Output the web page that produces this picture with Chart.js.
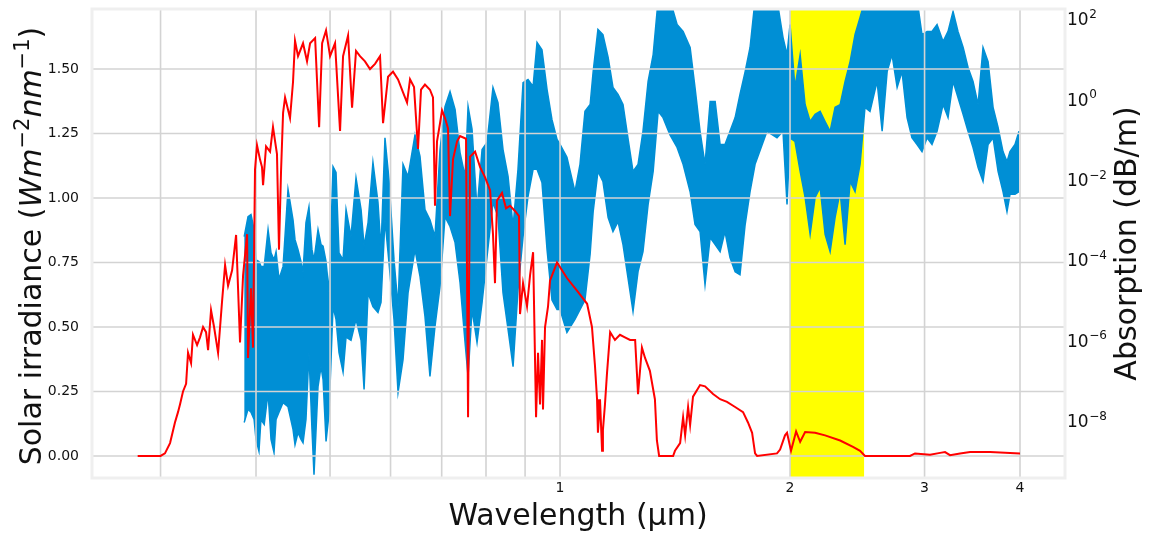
<!DOCTYPE html>
<html>
<head>
<meta charset="utf-8">
<script src="https://cdn.jsdelivr.net/npm/chart.js@4.4.1/dist/chart.umd.min.js"></script>
<style>
  html, body { margin: 0; padding: 0; background: #fff; }
  canvas { display: block; }
</style>
</head>
<body>
<canvas id="spectrumChart" width="1152" height="533"></canvas>
<script>
// solar irradiance (left axis, W m^-2 nm^-1)
var redWl = [
  0.28,0.30,0.304,0.3087,0.3133,0.3162,0.3181,0.321,0.324,0.3259,
  0.3289,0.3308,0.3349,0.3379,0.341,0.3441,0.3462,0.3493,0.3525,0.3568,
  0.3611,0.3644,0.3677,0.3722,0.3767,0.3812,0.3847,0.3894,0.3905,0.394,
  0.3964,0.3988,0.4012,0.4048,0.4073,0.4086,0.4123,0.4173,0.421,0.4261,
  0.4287,0.4313,0.434,0.4366,0.4432,0.4472,0.4499,0.454,0.4609,0.4665,
  0.4708,0.478,0.4838,0.4882,0.494,0.5,0.5076,0.5153,0.52,0.5279,
  0.5343,0.5407,0.5472,0.5555,0.564,0.5726,0.5813,0.5866,0.5955,0.6045,
  0.6137,0.623,0.6306,0.6363,0.644,0.6518,0.6577,0.6656,0.6757,0.6819,
  0.686,0.6902,0.6965,0.7007,0.707,0.7135,0.7178,0.7243,0.7332,0.7398,
  0.7533,0.7579,0.7625,0.7741,0.7859,0.7978,0.8099,0.817,0.822,0.8269,
  0.8395,0.8498,0.8602,0.8731,0.8837,0.8864,0.8945,0.9053,0.9136,0.922,
  0.9303,0.9358,0.9415,0.9472,0.95,0.9558,0.9645,0.9703,0.985,0.991,
  1.021,1.053,1.085,1.101,1.111,1.118,1.121,1.128,1.135,1.138,
  1.145,1.152,1.163,1.18,1.198,1.216,1.235,1.254,1.265,1.28,
  1.292,1.311,1.331,1.339,1.348,1.406,1.414,1.436,1.449,1.458,
  1.471,1.48,1.493,1.525,1.548,1.586,1.62,1.654,1.695,1.736,
  1.762,1.784,1.8,1.811,1.923,1.941,1.97,1.982,2.006,2.037,
  2.062,2.093,2.157,2.223,2.326,2.418,2.47,2.507,2.871,2.915,
  3.05,3.144,3.191,3.239,3.339,3.441,3.655,4.0
];
var irradiance = [
  0,0,0.01,0.05,0.13,0.17,0.2,0.25,0.28,0.4,
  0.36,0.47,0.43,0.46,0.5,0.48,0.41,0.565,0.5,0.4,
  0.6,0.74,0.66,0.72,0.857,0.44,0.7,0.86,0.38,0.65,
  0.42,1.11,1.205,1.15,1.12,1.05,1.2,1.18,1.275,1.17,
  0.8,1.1,1.33,1.39,1.31,1.45,1.61,1.55,1.6,1.53,
  1.6,1.62,1.275,1.6,1.65,1.55,1.6,1.26,1.55,1.63,
  1.35,1.57,1.55,1.53,1.5,1.52,1.55,1.29,1.47,1.49,
  1.46,1.41,1.37,1.46,1.43,1.19,1.42,1.44,1.42,1.39,
  0.97,1.22,1.29,1.34,1.31,1.27,0.93,1.15,1.22,1.24,
  1.23,0.15,1.16,1.18,1.12,1.08,1.03,0.86,0.67,0.99,
  1.02,0.96,0.97,0.95,0.93,0.55,0.67,0.58,0.7,0.79,
  0.15,0.4,0.2,0.45,0.18,0.5,0.58,0.68,0.73,0.75,
  0.69,0.64,0.59,0.5,0.35,0.22,0.09,0.22,0.02,0.1,
  0.2,0.32,0.48,0.45,0.47,0.46,0.45,0.45,0.24,0.42,
  0.38,0.33,0.22,0.06,0,0,0.02,0.05,0.15,0.08,
  0.19,0.12,0.23,0.275,0.27,0.24,0.22,0.21,0.19,0.17,
  0.13,0.09,0.01,0,0.01,0.025,0.08,0.09,0.02,0.095,
  0.055,0.093,0.09,0.08,0.06,0.035,0.02,0,0,0.01,
  0.005,0.012,0.015,0.003,0.01,0.015,0.015,0.01
];

// water absorption (right axis, dB/m): upper and lower edge of the dense band
var absWl = [
  0.386,0.3905,0.394,0.3977,0.400,0.4036,0.406,0.410,0.4148,0.4185,
  0.4223,0.4249,0.4287,0.434,0.4405,0.4472,0.4499,0.454,0.4581,0.4609,
  0.465,0.4692,0.4735,0.4764,0.4822,0.4866,0.4896,0.494,0.4985,0.5045,
  0.5091,0.5137,0.520,0.5247,0.5326,0.5407,0.549,0.554,0.5607,0.569,
  0.5777,0.583,0.590,0.5972,0.6063,0.6137,0.623,0.6325,0.6459,0.6557,
  0.6656,0.6757,0.686,0.6965,0.707,0.7178,0.7288,0.7398,0.7511,0.7579,
  0.767,0.7787,0.7906,0.8025,0.817,0.8294,0.8421,0.855,0.868,0.881,
  0.8945,0.908,0.922,0.933,0.947,0.9616,0.976,0.991,1.0,1.021,
  1.046,1.062,1.078,1.095,1.105,1.121,1.138,1.156,1.173,1.191,
  1.209,1.227,1.246,1.265,1.284,1.304,1.324,1.344,1.364,1.393,
  1.423,1.449,1.48,1.502,1.525,1.548,1.572,1.596,1.62,1.644,
  1.669,1.695,1.72,1.747,1.773,1.8,1.866,1.923,1.958,1.982,
  2.0,2.03,2.062,2.093,2.125,2.157,2.19,2.223,2.257,2.291,
  2.326,2.361,2.397,2.433,2.47,2.507,2.545,2.6,2.64,2.68,
  2.72,2.762,2.803,2.846,2.888,2.933,2.977,3.023,3.068,3.115,
  3.172,3.22,3.269,3.318,3.37,3.42,3.472,3.525,3.578,3.633,
  3.688,3.744,3.8,3.846,3.881,3.94,3.988
];
var absHigh = [
  3.8e-4,1.2e-3,1.35e-3,5.7e-4,1.0e-4,9.1e-5,6.9e-5,6.9e-5,5.7e-4,1.5e-4,
  1.0e-4,1.6e-4,3.3e-5,6.9e-5,5.7e-3,1.0e-3,3.2e-4,1.8e-4,9.1e-5,4.9e-5,
  8.5e-4,2.1e-3,1.8e-4,1.0e-4,5.7e-4,2.4e-4,2.2e-4,9.1e-5,1.5e-5,2.1e-2,
  1.5e-2,1.5e-4,1.0e-4,1.8e-3,3.8e-4,1.1e-2,1.8e-3,2.2e-4,8.5e-4,2.7e-2,
  2.7e-3,1.8e-4,0.11,1.0e-2,1.0e-4,6.9e-6,2.4e-2,1.2e-2,0.13,3.8e-2,
  1.8e-3,1.0e-3,3.8e-4,5.6e-2,0.66,1.56,0.56,4.7e-2,1.2e-2,0.66,
  0.18,1.8e-3,5.6e-2,8.4e-2,1.97,0.83,5.6e-2,1.2e-2,6.8e-4,1.8e-2,
  2.6,3.1,2.1,26,17,1.75,0.31,0.1,7.5e-2,3.6e-2,
  5.0e-3,2.4e-2,0.5,0.74,4.9,55,41,11,1.97,1.32,
  0.74,0.11,1.6e-2,2.4e-2,0.16,2.8,13,300,300,300,
  73,49,19.5,1.97,0.16,2.4e-2,0.88,0.88,7.5e-2,7.5e-2,
  0.16,0.35,1.32,4.9,19.5,300,300,300,35,13,
  73,1.97,13,0.74,0.28,0.42,0.5,0.28,0.16,0.63,
  0.74,2.8,8.7,41,109,300,300,300,300,300,
  300,300,300,300,300,300,41,49,49,73,
  27.5,49,154,49,19.5,6.2,2.8,0.74,19.5,8.7,
  0.63,0.2,5.0e-2,2.8e-2,5.0e-2,7.5e-2,0.16
];
var absLow = [
  8.9e-9,1.9e-8,1.6e-8,1.06e-8,3.4e-9,1.7e-9,1.06e-8,8.0e-9,5.0e-8,3.4e-9,
  1.6e-9,1.06e-8,1.6e-8,2.8e-8,2.2e-8,6.0e-9,2.5e-9,5.0e-9,3.4e-9,2.8e-9,
  1.06e-8,4.9e-7,6.0e-9,4.5e-10,7.0e-8,2.2e-7,1.05e-7,3.0e-9,1.5e-8,6.9e-6,
  3.3e-6,4.9e-7,1.6e-7,1.2e-6,1.0e-6,3.3e-6,1.0e-6,5.9e-8,1.5e-5,6.9e-6,
  4.9e-6,8.7e-6,1.0e-3,8.6e-5,3.3e-6,5.0e-8,3.3e-7,1.5e-5,1.8e-4,3.9e-5,
  3.9e-6,1.25e-7,2.2e-6,2.2e-5,1.2e-3,6.8e-4,2.7e-4,2.7e-5,8.8e-7,1.25e-7,
  5.8e-6,8.8e-7,8.7e-6,1.2e-4,2.7e-3,1.2e-3,1.5e-5,1.85e-6,2.2e-7,1.8e-5,
  3.8e-4,3.8e-3,1.8e-2,1.8e-2,8.5e-3,1.8e-4,1.0e-5,5.8e-6,5.8e-6,1.56e-6,
  3.3e-6,5.8e-6,1.0e-5,1.4e-4,1.6e-3,1.6e-2,9.0e-3,1.14e-3,5.1e-4,9.0e-4,
  2.4e-4,3.65e-5,5.2e-6,5.1e-5,1.6e-4,2.4e-3,1.6e-2,0.5,0.35,0.13,
  6.3e-2,2.4e-2,5.0e-3,7.6e-4,5.1e-4,2.4e-5,3.6e-4,2.4e-4,1.6e-4,5.1e-4,
  1.15e-4,5.1e-5,4.3e-5,7.6e-4,5.0e-3,2.4e-2,0.16,0.11,0.16,2.4e-3,
  0.11,8.9e-2,1.6e-2,3.6e-3,4.3e-4,3.6e-3,6.4e-3,4.3e-4,1.6e-4,1.14e-3,
  5.0e-3,2.4e-4,9.0e-3,5.0e-3,2.4e-2,0.63,0.5,2.8,0.16,4.9,
  13,1.97,4.9,0.35,0.11,7.5e-2,5.0e-2,0.11,7.5e-2,0.16,
  0.74,0.35,2.8,1.11,0.42,0.16,6.3e-2,2.0e-2,9.0e-3,7.5e-2,
  0.11,1.6e-2,5.0e-3,1.6e-3,4.3e-3,4.3e-3,5.0e-3
];

var wlTicks = [0.3, 0.4, 0.5, 0.6, 0.7, 0.8, 0.9, 1, 2, 3, 4];
var wlTickLabels = ['', '', '', '', '', '', '', '1', '2', '3', '4'];
var irrTicks = [0, 0.25, 0.5, 0.75, 1.0, 1.25, 1.5];
var absTickExp = [-8, -6, -4, -2, 0, 2];
var bandStart = 2.0, bandEnd = 2.5;

var FONT = '"DejaVu Sans", sans-serif';
var BLUE = '#008fd5';
var INK = '#111';

var redPts = redWl.map(function (w, i) { return { x: w, y: irradiance[i] }; });
var highPts = absWl.map(function (w, i) { return { x: w, y: absHigh[i] }; });
var lowPts = absWl.map(function (w, i) { return { x: w, y: absLow[i] }; });

function noEdgePadding(s) {
    s.paddingTop = 0; s.paddingBottom = 0;
    s.paddingLeft = 0; s.paddingRight = 0;
}

var decor = {
    id: 'decor',
    beforeDatasetsDraw: function (chart) {
        var ctx = chart.ctx, a = chart.chartArea, x = chart.scales.x;
        var x0 = x.getPixelForValue(bandStart), x1 = x.getPixelForValue(bandEnd);
        ctx.save();
        ctx.fillStyle = '#ffff00';
        ctx.fillRect(x0, a.top, x1 - x0, a.bottom - a.top);
        ctx.restore();
    },
    beforeDatasetDraw: function (chart, args) {
        // grid sits above the blue band but under the red curve
        if (args.index !== 0) return;
        var ctx = chart.ctx, a = chart.chartArea;
        var x = chart.scales.x, y = chart.scales.y;
        ctx.save();
        ctx.strokeStyle = '#d3d3d3';
        ctx.lineWidth = 1.6;
        ctx.beginPath();
        wlTicks.forEach(function (v) {
            var px = x.getPixelForValue(v);
            ctx.moveTo(px, a.top); ctx.lineTo(px, a.bottom);
        });
        irrTicks.forEach(function (v) {
            var py = y.getPixelForValue(v);
            ctx.moveTo(a.left, py); ctx.lineTo(a.right, py);
        });
        ctx.stroke();
        ctx.restore();
    },
    afterDraw: function (chart) {
        var ctx = chart.ctx, a = chart.chartArea;
        var x = chart.scales.x, y = chart.scales.y, y2 = chart.scales.y2;
        ctx.save();
        // frame
        ctx.strokeStyle = '#efefef';
        ctx.lineWidth = 3;
        ctx.strokeRect(a.left, a.top - 1, a.right - a.left + 1, a.bottom - a.top + 2);

        ctx.fillStyle = INK;
        ctx.font = '14px ' + FONT;

        // left tick labels
        ctx.textAlign = 'right';
        ctx.textBaseline = 'middle';
        irrTicks.forEach(function (v) {
            ctx.fillText(v.toFixed(2), a.left - 13, y.getPixelForValue(v));
        });

        // bottom tick labels
        ctx.textAlign = 'center';
        wlTicks.forEach(function (v, i) {
            if (wlTickLabels[i]) ctx.fillText(wlTickLabels[i], x.getPixelForValue(v), a.bottom + 11);
        });

        // right tick labels 10^n
        ctx.textAlign = 'left';
        ctx.textBaseline = 'alphabetic';
        absTickExp.forEach(function (e) {
            var py = y2.getPixelForValue(Math.pow(10, e));
            ctx.font = '17px ' + FONT;
            ctx.fillText('10', a.right + 3, py + 6.5);
            var w = ctx.measureText('10').width;
            ctx.font = '12px ' + FONT;
            ctx.fillText(e < 0 ? '\u2212' + (-e) : String(e), a.right + 3 + w + 0.5, py - 1);
        });

        // x title
        ctx.font = '30px ' + FONT;
        ctx.textAlign = 'center';
        ctx.fillText('Wavelength (\u00b5m)', (a.left + a.right) / 2, 525);

        // right title
        ctx.save();
        ctx.translate(1136, (a.top + a.bottom) / 2);
        ctx.rotate(-Math.PI / 2);
        ctx.fillText('Absorption (dB/m)', 0, 0);
        ctx.restore();

        // left title with italic units and superscripts
        var parts = [
            ['Solar irradiance (', '30px ' + FONT, 0],
            ['Wm', 'italic 30px ' + FONT, 0],
            ['\u22122', '21px ' + FONT, 12],
            ['nm', 'italic 30px ' + FONT, 0],
            ['\u22121', '21px ' + FONT, 12],
            [')', '30px ' + FONT, 0]
        ];
        var total = 0;
        parts.forEach(function (p) { ctx.font = p[1]; p.push(ctx.measureText(p[0]).width); total += p[3]; });
        ctx.translate(41, 246);
        ctx.rotate(-Math.PI / 2);
        ctx.textAlign = 'left';
        var cx = -total / 2;
        parts.forEach(function (p) {
            ctx.font = p[1];
            ctx.fillText(p[0], cx, -p[2]);
            cx += p[3];
        });
        ctx.restore();
    }
};

var ctx = document.getElementById('spectrumChart').getContext('2d');
var spectrumChart = new Chart(ctx, {
    type: 'line',
    data: {
        datasets: [{
            label: 'Solar irradiance',
            data: redPts,
            yAxisID: 'y',
            borderColor: '#ff0000',
            borderWidth: 2,
            pointRadius: 0,
            fill: false,
            clip: 0
        }, {
            label: 'Absorption high',
            data: highPts,
            yAxisID: 'y2',
            borderColor: BLUE,
            backgroundColor: BLUE,
            borderWidth: 1.5,
            pointRadius: 0,
            fill: '+1',
            clip: 0
        }, {
            label: 'Absorption low',
            data: lowPts,
            yAxisID: 'y2',
            borderColor: BLUE,
            borderWidth: 1.5,
            pointRadius: 0,
            fill: false,
            clip: 0
        }]
    },
    options: {
        responsive: false,
        animation: false,
        devicePixelRatio: 1,
        layout: { padding: { top: 10, left: 0, right: 0, bottom: 0 } },
        plugins: { legend: { display: false }, tooltip: { enabled: false } },
        elements: { line: { tension: 0 } },
        scales: {
            x: {
                type: 'logarithmic',
                min: 0.244,
                max: 4.567,
                grid: { display: false, drawTicks: false },
                border: { display: false },
                afterBuildTicks: function (s) { s.ticks = wlTicks.map(function (v) { return { value: v }; }); },
                afterFit: function (s) { s.height = 56; noEdgePadding(s); },
                ticks: { display: false }
            },
            y: {
                type: 'linear',
                position: 'left',
                min: -0.0815,
                max: 1.729,
                grid: { display: false, drawTicks: false },
                border: { display: false },
                afterBuildTicks: function (s) { s.ticks = irrTicks.map(function (v) { return { value: v }; }); },
                afterFit: function (s) { s.width = 92; noEdgePadding(s); },
                ticks: { display: false }
            },
            y2: {
                type: 'logarithmic',
                position: 'right',
                min: 3.92e-10,
                max: 167.5,
                grid: { display: false, drawTicks: false },
                border: { display: false },
                afterBuildTicks: function (s) { s.ticks = absTickExp.map(function (e) { return { value: Math.pow(10, e) }; }); },
                afterFit: function (s) { s.width = 88; noEdgePadding(s); },
                ticks: { display: false }
            }
        }
    },
    plugins: [decor]
});
</script>
</body>
</html>
